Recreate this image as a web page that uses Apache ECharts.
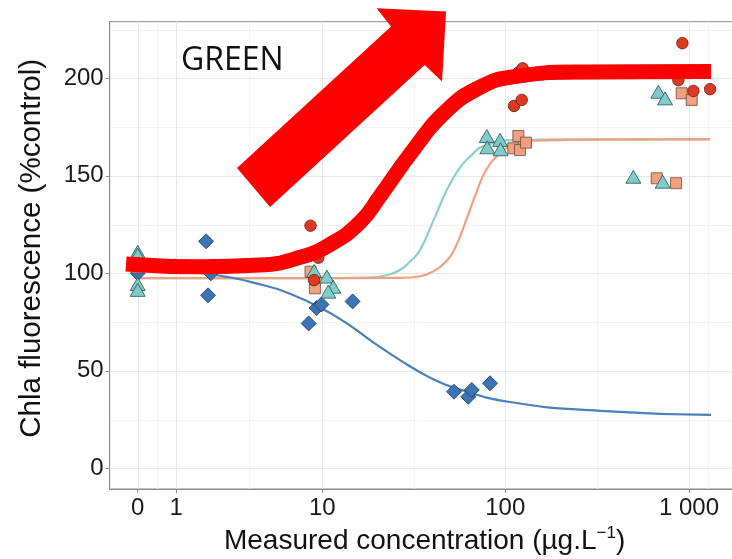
<!DOCTYPE html>
<html><head><meta charset="utf-8">
<script src="https://cdn.jsdelivr.net/npm/echarts@6/dist/echarts.min.js"></script>
<style>html,body{margin:0;padding:0;background:#fff}#c{width:732px;height:559px}</style>
</head><body><div id="c"></div>
<script>
// ---------- data (concentration in µg/L, response in %control) ----------
const xTickConc = [0, 1, 10, 100, 1000];
const xTickLabels = ['0', '1', '10', '100', '1 000'];
const yTicks = [0, 50, 100, 150, 200];

const circlesX = [0, 0, 8.6, 9.5, 9.0, 111.6, 117.8, 122.9, 124.4, 875, 920, 1056, 1302];
const circlesY = [104, 105, 124.4, 108, 96.5, 185.8, 202.9, 188.9, 205.1, 199, 218, 193.5, 194.4];

const squaresX = [0, 8.6, 9.1, 110.6, 117.8, 120.3, 129.6, 667, 850, 912, 1034];
const squaresY = [103, 100.8, 92.3, 164.1, 170.4, 163.2, 167, 148.7, 146.2, 192.3, 188.9];

const trianglesX = [0, 0, 0, 0, 9.0, 10.6, 11.5, 10.8, 79.3, 79.8, 93.7, 94.3, 497.6, 680.6, 719, 740];
const trianglesY = [111, 109.5, 94.5, 91.5, 101.2, 98.3, 93.1, 90.6, 170.4, 164.6, 168.4, 163.6, 149.5, 193.1, 147, 189.7];

const diamondsX = [0, 0, 1.93, 2.0, 2.1, 8.4, 9.3, 9.9, 14.7, 52.6, 62.9, 65.7, 82.6];
const diamondsY = [102, 100, 116.4, 88.7, 100, 74.3, 82.2, 84, 85.6, 39.3, 36.7, 40.2, 43.6];

// fitted curves
const blueCurveX = [0, 2.07, 4.83, 6.59, 9.47, 13.35, 18.8, 26.7, 38.9, 52.1, 106, 328, 1317];
const blueCurveY = [102, 99.5, 93.5, 89.5, 83, 75, 65, 55.5, 46.5, 41.5, 34, 29.5, 27.4];

const tealCurveX = [0, 7.5, 18.3, 23.6, 26.7, 30.3, 34.4, 40.6, 52.2, 67, 79.3, 110.6, 328, 1302];
const tealCurveY = [97.5, 97.5, 97.8, 99.5, 101.7, 106, 112, 127, 149, 161.5, 165.8, 168.3, 168.7, 168.8];

const salmonCurveX = [0, 7.5, 26.7, 34.4, 41.4, 47, 53.3, 61.7, 70, 79.3, 93.7, 110.6, 142, 328, 1302];
const salmonCurveY = [97.5, 97.5, 97.6, 98.5, 101.5, 105.5, 113, 128, 142, 153.5, 161.5, 165.8, 168, 168.5, 168.7];

const redCurveX = [0, 1.72, 4.41, 7.51, 11.04, 16.2, 20.8, 31.5, 48.2, 72.9, 110, 255, 1317];
const redCurveY = [101, 101, 101.8, 105, 111, 122.5, 135.5, 158.5, 179, 191.5, 197.5, 200, 200.3];

// hand-drawn overlay (thick red trend line)
const trendX = [-0.294, 1.72, 4.41, 7.51, 11.04, 16.2, 20.8, 31.5, 48.2, 72.9, 110, 255, 1317];
const trendY = [104.8, 103.4, 104.2, 108.2, 114.8, 126.3, 139.6, 163.2, 183.7, 195.5, 200.7, 203.2, 203.5];

// big arrow annotation, in axis units [asinh(x/2), %control]
const arrowPts = [[1.244, 154.0], [3.174, 226.5], [2.993, 235.9], [3.863, 234.2], [3.813, 198.3], [3.595, 206.8], [1.658, 134.0]];

// ---------- scale: pseudo-log (asinh(x/2)) ----------
const tx = x => Math.asinh(x / 2);
const pair = (xs, ys) => xs.map((x, i) => [tx(x), ys[i]]);

const xMajor = xTickConc.map(tx);
const xMinor = [];
for (let i = 0; i < xMajor.length - 1; i++) xMinor.push((xMajor[i] + xMajor[i + 1]) / 2);
xMinor.push(xMajor[xMajor.length - 1] + (xMajor[1] - xMajor[0]) / 2);
const yMinor = [25, 75, 125, 175, 225];

const gridItems = [];
xMinor.forEach(v => gridItems.push([0, v, 0]));
yMinor.forEach(v => gridItems.push([1, v, 0]));
xMajor.forEach(v => gridItems.push([0, v, 1]));
yTicks.forEach(v => gridItems.push([1, v, 1]));

const FONT = "'Liberation Sans', Arial, sans-serif";

const chart = echarts.init(document.getElementById('c'), null, {renderer: 'canvas'});

function curve(xs, ys, color, w, z) {
  return {type: 'line', data: pair(xs, ys), showSymbol: false, symbol: 'none', smooth: 0.5,
    lineStyle: {color: color, width: w}, z: z, silent: true, clip: true};
}
function pts(xs, ys, symbol, size, fill, border) {
  return {type: 'scatter', data: pair(xs, ys), symbol: symbol, symbolSize: size, z: 3,
    itemStyle: {color: fill, borderColor: border, borderWidth: 0.8, opacity: 1}};
}

chart.setOption({
  animation: false,
  backgroundColor: '#fff',
  grid: {left: 109.7, top: 21.7, right: -7.5, bottom: 70, show: true, borderColor: '#8a8a8a', borderWidth: 1,
    containLabel: false, outerBoundsMode: 'none'},
  xAxis: {
    type: 'value', min: -0.351, max: 7.54,
    splitLine: {show: false},
    axisLine: {show: true, onZero: false, lineStyle: {color: '#8a8a8a'}},
    axisTick: {show: true, customValues: xMajor, length: 4, lineStyle: {color: '#8a8a8a'}},
    axisLabel: {customValues: xMajor, fontSize: 24, color: '#1a1a1a', margin: 7, fontFamily: FONT,
      formatter: v => { for (let i = 0; i < xMajor.length; i++) if (Math.abs(xMajor[i] - v) < 1e-6) return xTickLabels[i]; return ''; }},
    name: 'Measured concentration (µg.L{sup|−1})',
    nameLocation: 'middle', nameGap: 36,
    nameTextStyle: {fontSize: 28, color: '#111', fontFamily: FONT, lineHeight: 32,
      rich: {sup: {fontSize: 17, fontFamily: FONT, color: '#111', verticalAlign: 'top', lineHeight: 32}}}
  },
  yAxis: {
    type: 'value', min: -10.6, max: 229,
    splitLine: {show: false},
    axisLine: {show: true, onZero: false, lineStyle: {color: '#8a8a8a'}},
    axisTick: {show: true, customValues: yTicks, length: 4, lineStyle: {color: '#8a8a8a'}},
    axisLabel: {customValues: yTicks, fontSize: 24, color: '#1a1a1a', margin: 6, fontFamily: FONT},
    name: 'Chla fluorescence (%control)',
    nameLocation: 'middle', nameGap: 63,
    nameTextStyle: {fontSize: 29.5, color: '#111', fontFamily: FONT, padding: [0, 0, 0, 14]}
  },
  series: [
    {type: 'custom', z: 0, silent: true, data: gridItems, clip: false,
      renderItem: (params, api) => {
        const cs = params.coordSys;
        const kind = api.value(0), v = api.value(1), major = api.value(2);
        let x1, y1, x2, y2;
        if (kind === 0) { const p = api.coord([v, 0]); x1 = x2 = Math.round(p[0]) + 0.5; y1 = cs.y; y2 = cs.y + cs.height; }
        else { const p = api.coord([0, v]); y1 = y2 = Math.round(p[1]) + 0.5; x1 = cs.x; x2 = cs.x + cs.width; }
        return {type: 'line', shape: {x1, y1, x2, y2},
          style: {stroke: major ? '#e8e8e8' : '#f3f3f3', lineWidth: 1}};
      }},
    curve(redCurveX, redCurveY, '#b5302a', 2, 1),
    curve(tealCurveX, tealCurveY, '#8ccfc8', 2.2, 1),
    curve(salmonCurveX, salmonCurveY, '#f0a07f', 2.2, 1),
    curve(blueCurveX, blueCurveY, '#4a80b8', 2.2, 1),
    pts(diamondsX, diamondsY, 'diamond', 15, '#3b74b5', '#1c3558'),
    pts(squaresX, squaresY, 'rect', 11, '#f2a07e', '#6b4a3a'),
    pts(trianglesX, trianglesY, 'triangle', [15, 13], '#7fcdcb', '#2e4f4f'),
    pts(circlesX, circlesY, 'circle', 11.5, '#dc3a22', '#6a1a10'),
    Object.assign(curve(trendX, trendY, '#ff0000', 15, 5), {lineStyle: {color: '#ff0000', width: 15, cap: 'butt'}})
  ]
});

const arrowPx = arrowPts.map(p => chart.convertToPixel({gridIndex: 0}, p));
chart.setOption({
  graphic: [
    {type: 'polygon', shape: {points: arrowPx}, style: {fill: '#ff0000'}, z: 100},
    {type: 'text', x: 181, y: 61, z: 101,
      style: {text: 'GREEN', fill: '#111', font: "32px 'Open Sans', sans-serif", textAlign: 'left', textVerticalAlign: 'middle'}}
  ]
});
</script>
</body></html>
